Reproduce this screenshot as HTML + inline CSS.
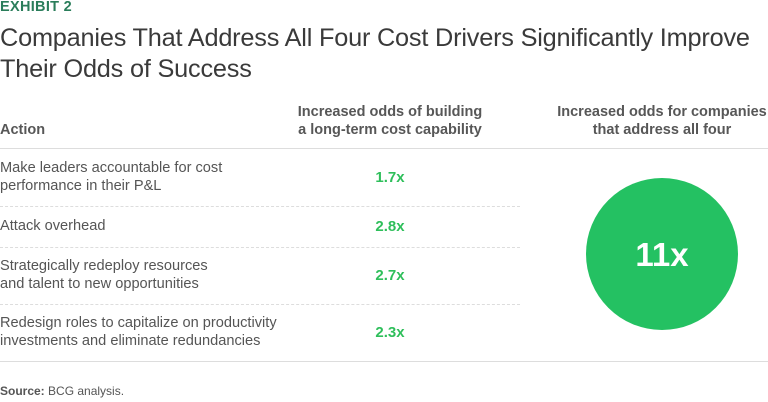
<!DOCTYPE html>
<html><head><meta charset="utf-8"><style>
body{margin:0;width:768px;height:402px;background:#fff;font-family:"Liberation Sans",sans-serif;position:relative;overflow:hidden}
.a{position:absolute;margin:0}
.ex{left:0;top:-1px;font-size:14.5px;font-weight:bold;color:#2a7d5a;letter-spacing:.3px}
.t{left:0;top:23px;font-size:25.3px;color:#3a3a3a;line-height:31px;letter-spacing:-.2px}
.h{font-size:14.5px;font-weight:bold;color:#575757;line-height:18px}
.r{left:0;font-size:14.6px;color:#555;line-height:18px}
.v{left:362px;width:56px;text-align:center;font-size:15px;font-weight:bold;color:#2fbf5b}
.ln{left:0;width:768px;height:0}
</style></head><body>
<div class="a ex">EXHIBIT 2</div>
<div class="a t">Companies That Address All Four Cost Drivers Significantly Improve<br>Their Odds of Success</div>
<div class="a h" style="left:0;top:121px">Action</div>
<div class="a h" style="left:250px;width:280px;text-align:center;top:103px">Increased odds of building<br>a long-term cost capability</div>
<div class="a h" style="left:522px;width:280px;text-align:center;top:103px">Increased odds for companies<br>that address all four</div>
<div class="a ln" style="top:148px;border-top:1px solid #ddd"></div>
<div id="rows"></div>
<div class="a ln" style="top:361px;border-top:1px solid #ddd"></div>
<div class="a" style="left:586px;top:178px;width:152px;height:152px;border-radius:50%;background:#24c162"></div>
<div class="a" style="left:586px;top:236px;width:152px;text-align:center;font-size:33px;font-weight:bold;color:#fff">11x</div>
<div class="a" style="left:0;top:384px;font-size:12px;color:#555"><b>Source:</b> BCG analysis.</div>
<script>
const actions=[["Make leaders accountable for cost","performance in their P&L"],["Attack overhead"],["Strategically redeploy resources","and talent to new opportunities"],["Redesign roles to capitalize on productivity","investments and eliminate redundancies"]];
const odds=[1.7,2.8,2.7,2.3];
const rowTops=[150,207,248,305];
const rowBottoms=[206,247,304,361];
const c=document.getElementById('rows');
actions.forEach((a,i)=>{
 const mid=(rowTops[i]+rowBottoms[i])/2;
 const t=document.createElement('div');t.className='a r';
 
 
 t.innerHTML=a.map(s=>s.replace('&','&amp;')).join('<br>');
 t.style.top=(mid-a.length*9-1)+'px';c.appendChild(t);
 const v=document.createElement('div');v.className='a v';
 
 
 v.textContent=odds[i].toFixed(1)+'x';v.style.top=(mid-9)+'px';c.appendChild(v);
 if(i<actions.length-1){const l=document.createElement('div');l.className='a';
 
 
 l.style.cssText='left:0;width:520px;top:'+rowBottoms[i]+'px;border-top:1px dashed #ddd';c.appendChild(l);}
});
</script>
</body></html>
